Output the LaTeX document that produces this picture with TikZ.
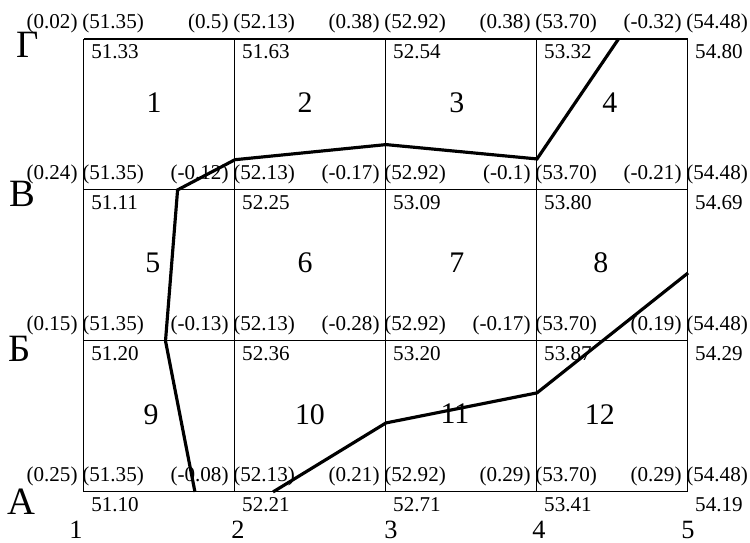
\documentclass[tikz,border=0pt]{standalone}
\usepackage{fontspec}
\setmainfont{Liberation Serif}

\begin{document}
\begin{tikzpicture}[scale=3.02]
    \tikzset{
        workmark/.style={anchor=base east, inner sep=0pt, font=\fontsize{12}{14}\selectfont},
        designmark/.style={anchor=base west, inner sep=0pt, font=\fontsize{12}{14}\selectfont},
        groundmark/.style={anchor=base west, inner sep=0pt, font=\fontsize{12}{14}\selectfont},
        cellnum/.style={inner sep=0pt, font=\fontsize{17}{20}\selectfont},
        rowletter/.style={inner sep=0pt, font=\fontsize{22}{26}\selectfont},
        colnum/.style={anchor=base, inner sep=0pt, font=\fontsize{15}{18}\selectfont},
        zeroline/.style={line width=1.8pt}
    }
    \useasboundingbox (-0.556,-0.338) rectangle (4.411,3.258);

    % square grid
    \draw[line width=0.6pt] (0,0) grid (4,3);

    % grid nodes: (work mark) (design mark) and ground mark
    \foreach \j/\ptlist in {
        3/{0.02/51.35/51.33,0.5/52.13/51.63,0.38/52.92/52.54,0.38/53.70/53.32,-0.32/54.48/54.80},
        2/{0.24/51.35/51.11,-0.12/52.13/52.25,-0.17/52.92/53.09,-0.1/53.70/53.80,-0.21/54.48/54.69},
        1/{0.15/51.35/51.20,-0.13/52.13/52.36,-0.28/52.92/53.20,-0.17/53.70/53.87,0.19/54.48/54.29},
        0/{0.25/51.35/51.10,-0.08/52.13/52.21,0.21/52.92/52.71,0.29/53.70/53.41,0.29/54.48/54.19}}
    {
        \foreach \w/\d/\g [count=\i from 0] in \ptlist {
            \coordinate (n\i\j) at (\i,\j);
            \node[workmark] (w\i\j) at (\i-0.04,\j+0.066) {(\w)};
            \node[designmark] (d\i\j) at (\i-0.013,\j+0.066) {(\d)};
            \node[groundmark] (g\i\j) at (\i+0.046,\j-0.132) {\g};
        }
    }

    % square numbers
    \foreach \n/\x/\y in {1/0.464/2.576, 2/1.464/2.576, 3/2.47/2.576, 4/3.483/2.576,
                          5/0.457/1.517, 6/1.464/1.517, 7/2.47/1.517, 8/3.424/1.517,
                          9/0.444/0.51, 10/1.497/0.51, 11/2.457/0.517, 12/3.417/0.51}
        \node[cellnum] (sq\n) at (\x,\y) {\n};

    % rows and columns
    \foreach \r/\x/\y [count=\k] in {Г/-0.371/2.96, В/-0.411/1.974, Б/-0.424/0.947, А/-0.411/-0.066}
        \node[rowletter] (row\k) at (\x,\y) {\r};
    \foreach \c/\x in {1/-0.053, 2/1.02, 3/2.033, 4/3.013, 5/4.0}
        \node[colnum] (col\c) at (\x,-0.308) {\c};

    % zero lines
    \coordinate (a1) at (3.54,3);
    \coordinate (a2) at (3,2.205);
    \coordinate (a3) at (2,2.3);
    \coordinate (a4) at (1,2.2);
    \coordinate (a5) at (0.62,2);
    \coordinate (a6) at (0.54,1);
    \coordinate (a7) at (0.735,0);
    \draw[zeroline] (a1) -- (a2) -- (a3) -- (a4) -- (a5) -- (a6) -- (a7);
    \coordinate (b1) at (4,1.45);
    \coordinate (b2) at (3,0.656);
    \coordinate (b3) at (2,0.457);
    \coordinate (b4) at (1.252,0);
    \draw[zeroline] (b1) -- (b2) -- (b3) -- (b4);
\end{tikzpicture}
\end{document}
